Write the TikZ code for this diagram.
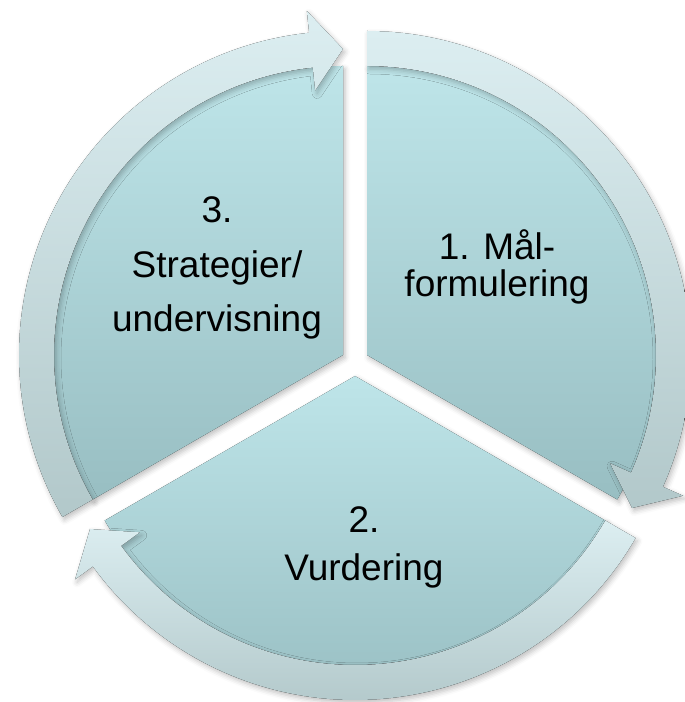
\documentclass[tikz,border=0pt]{standalone}
\usepackage{fontspec}
\setmainfont{Liberation Sans}
\usetikzlibrary{shadows.blur}

\definecolor{segtop}{RGB}{190,229,233}
\definecolor{segbot}{RGB}{152,190,194}
\definecolor{bandtop}{RGB}{220,238,241}
\definecolor{bandbot}{RGB}{178,200,202}

\begin{document}
\begin{tikzpicture}[x=1pt,y=1pt,
  segment/.style={top color=segtop, bottom color=segbot,
    blur shadow={shadow xshift=2pt, shadow yshift=-3pt, shadow blur radius=5pt, shadow opacity=25}},
  band/.style={top color=bandtop, bottom color=bandbot,
    blur shadow={shadow xshift=2pt, shadow yshift=-3pt, shadow blur radius=5pt, shadow opacity=25}},
  segtext/.style={align=center, inner sep=0pt}]
  \useasboundingbox (0,0) rectangle (685,702);

  % apexes of the three segments
  \coordinate (c1) at (367,347);
  \coordinate (c2) at (355,326);
  \coordinate (c3) at (343,347);

  % 3. strategier
  \begin{scope}[shift={(c3)}]
    \fill[segment] (0,0) -- (210:289) arc[start angle=210, end angle=90, radius=289pt] -- cycle;
    \fill[band] (210:289) arc[start angle=210, end angle=96, radius=289pt] -- (96:266) -- (90:306) -- (96:346) -- (96:324) arc[start angle=96, end angle=210, radius=324pt] -- cycle;
  \end{scope}

  % 1. maalformulering
  \begin{scope}[shift={(c1)}]
    \fill[segment] (0,0) -- (90:289) arc[start angle=90, end angle=-30, radius=289pt] -- cycle;
    \fill[band] (90:289) arc[start angle=90, end angle=-24, radius=289pt] -- (-24:266) -- (-30:306) -- (-24:346) -- (-24:324) arc[start angle=-24, end angle=90, radius=324pt] -- cycle;
  \end{scope}

  % 2. vurdering
  \begin{scope}[shift={(c2)}]
    \fill[segment] (0,0) -- (-30:289) arc[start angle=-30, end angle=-150, radius=289pt] -- cycle;
    \fill[band] (-30:289) arc[start angle=-30, end angle=-144, radius=289pt] -- (-144:266) -- (-150:306) -- (-144:346) -- (-144:324) arc[start angle=-144, end angle=-30, radius=324pt] -- cycle;
  \end{scope}

  % texts
  \node[segtext, font=\fontsize{37}{36.3}\selectfont] (maal) at (497,435) {1. Mål-\\formulering};
  \node[segtext, font=\fontsize{37}{47.3}\selectfont] (vurd) at (364,154.5) {2.\\Vurdering};
  \node[segtext, font=\fontsize{37}{54.5}\selectfont] (strat) at (217,434) {3.\\Strategier/\\undervisning};
\end{tikzpicture}
\end{document}
